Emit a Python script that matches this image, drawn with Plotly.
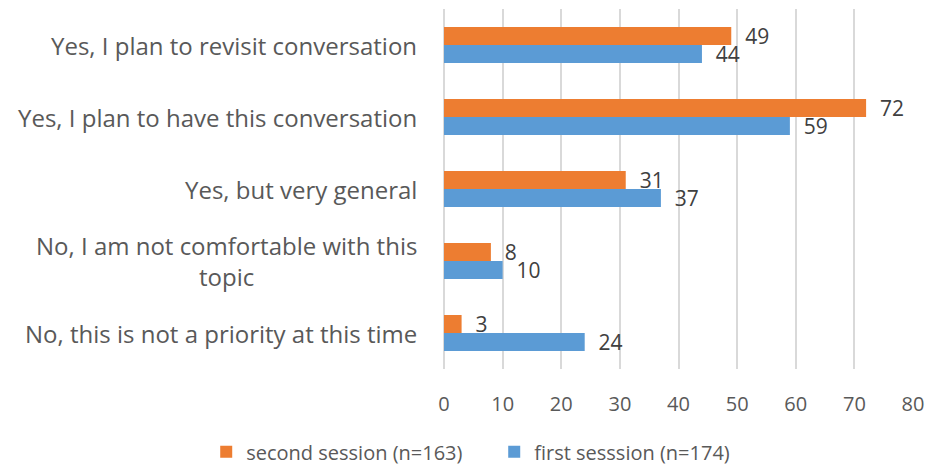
import plotly.graph_objects as go

# Survey responses, listed top to bottom
categories = [
    "Yes, I plan to revisit conversation",
    "Yes, I plan to have this conversation",
    "Yes, but very general",
    "No, I am not comfortable with this<br>topic",
    "No, this is not a priority at this time",
]
second_session = [49, 72, 31, 8, 3]
first_session = [44, 59, 37, 10, 24]
series_names = ["second session (n=163)", "first sesssion (n=174)"]
x_ticks = [0, 10, 20, 30, 40, 50, 60, 70, 80]

ORANGE = "#ED7D31"
BLUE = "#5B9BD5"
TEXT = "#595959"
LABEL = "#404040"
GRID = "#D9D9D9"
FONT = "Open Sans, sans-serif"

fig = go.Figure()
for name, vals, color in [
    (series_names[0], second_session, ORANGE),
    (series_names[1], first_session, BLUE),
]:
    fig.add_trace(go.Bar(
        y=categories,
        x=vals,
        name=name,
        orientation="h",
        marker=dict(color=color, line=dict(width=0)),
        text=[f"  {v}" for v in vals],
        textposition="outside",
        constraintext="none",
        textfont=dict(family=FONT, size=21, color=LABEL),
        cliponaxis=False,
    ))

# Category labels drawn as centred multi-line text at each category
for cat in categories:
    fig.add_annotation(
        x=0, y=cat, xref="paper", yref="y",
        text=cat, showarrow=False,
        xanchor="right", yanchor="middle", align="center",
        xshift=-25,
        font=dict(family=FONT, size=24, color=TEXT),
    )

fig.update_layout(
    width=925, height=466,
    margin=dict(l=444, r=12, t=9, b=97, autoexpand=False),
    paper_bgcolor="white", plot_bgcolor="white",
    barmode="group", bargap=0.5, bargroupgap=0,
    font=dict(family=FONT, color=TEXT),
    showlegend=True,
    legend=dict(
        orientation="h", xref="paper", yref="paper",
        x=-0.507, xanchor="left", y=-0.23, yanchor="middle",
        font=dict(family=FONT, size=20, color=TEXT),
        traceorder="normal", itemwidth=30,
        entrywidth=243, entrywidthmode="pixels",
    ),
    xaxis=dict(
        range=[0, 80], tickvals=x_ticks, showgrid=True, gridcolor=GRID,
        gridwidth=1.5, zeroline=True, zerolinecolor=GRID, zerolinewidth=1.5,
        showline=False, ticks="", tickfont=dict(family=FONT, size=20, color=TEXT),
        ticklabelstandoff=21, automargin=False,
    ),
    yaxis=dict(
        autorange="reversed", showticklabels=False, showgrid=False,
        zeroline=False, showline=False, ticks="", automargin=False,
    ),
)

fig.write_html("out.html")
